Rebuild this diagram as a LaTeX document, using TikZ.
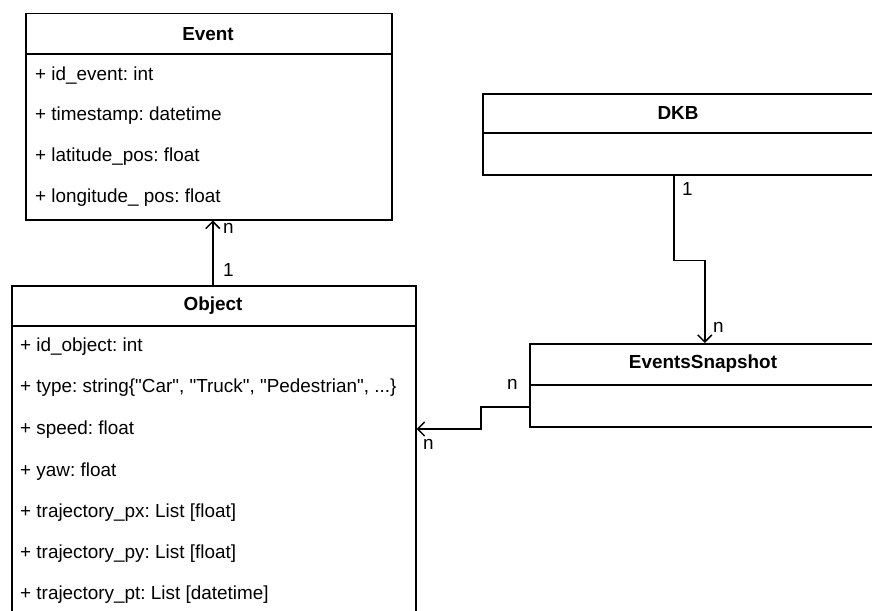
\documentclass[tikz,border=0pt]{standalone}
\usepackage{fontspec}
\setmainfont{Liberation Sans}[Ligatures=TeXOff]
\usetikzlibrary{arrows.meta}
\frenchspacing
\begin{document}
\begin{tikzpicture}[x=1pt,y=-1pt,
  every node/.style={font=\fontsize{18.9}{22}\selectfont, inner sep=0pt},
  umlbox/.style={draw, line width=1.5pt, rectangle, anchor=north west, inner sep=0pt},
  title/.style={font=\fontsize{18.9}{22}\selectfont\bfseries},
  attr/.style={anchor=west},
  mult/.style={anchor=west},
  rule/.style={line width=1.5pt},
  conn/.style={line width=1.5pt, -{Straight Barb[length=7pt,width=14pt,line width=1.5pt]}}]
\clip (0,0) rectangle (872,610);
\fill[white] (0,0) rectangle (872,610);

% Event class
\node[umlbox, minimum width=366pt, minimum height=206pt] (event) at (25,13) {};
\node[title] (eventT) at (208,34) {Event};
\draw[rule] (25,54) -- (391,54);
\node[attr] (e1) at (35,76) {+ id\_event: int};
\node[attr] (e2) at (35,116) {+ timestamp: datetime};
\node[attr] (e3) at (35,157) {+ latitude\_pos: float};
\node[attr] (e4) at (35,198) {+ longitude\_ pos: float};

% DKB class
\node[umlbox, minimum width=392pt, minimum height=81pt] (dkb) at (482,93) {};
\node[title] (dkbT) at (678,113) {DKB};
\draw[rule] (482,133) -- (874,133);

% Object class
\node[umlbox, minimum width=404pt, minimum height=345pt] (object) at (11,285) {};
\node[title] (objectT) at (213,306) {Object};
\draw[rule] (11,326) -- (415,326);
\node[attr] (o1) at (20,347) {+ id\_object: int};
\node[attr] (o2) at (20,388) {+ type: string\{"Car", "Truck", "Pedestrian", ...\}};
\node[attr] (o3) at (20,430) {+ speed: float};
\node[attr] (o4) at (20,472) {+ yaw: float};
\node[attr] (o5) at (20,513) {+ trajectory\_px: List [float]};
\node[attr] (o6) at (20,554) {+ trajectory\_py: List [float]};
\node[attr] (o7) at (20,595) {+ trajectory\_pt: List [datetime]};

% EventsSnapshot class
\node[umlbox, minimum width=348pt, minimum height=83pt] (es) at (529,343) {};
\node[title] (esT) at (703,364) {EventsSnapshot};
\draw[rule] (529,385) -- (877,385);

% Object -> Event
\draw[conn] ([xshift=-1pt]object.north) -- ([xshift=-1pt]object.north |- event.south);
\node[mult] (m1) at (223,228) {n};
\node[mult] (m2) at (223,270) {1};

% DKB -> EventsSnapshot
\draw[conn] ([xshift=-5pt]dkb.south) -- ++(0,85) -| ([xshift=1pt]es.north);
\node[mult] (m3) at (682,189) {1};
\node[mult] (m4) at (713,327) {n};

% EventsSnapshot -> Object
\draw[conn] ([yshift=-21.5pt]es.west) -- ++(-48,0) |- ([yshift=-144pt]object.north east);
\node[mult] (m5) at (507,384) {n};
\node[mult] (m6) at (423,444) {n};
\end{tikzpicture}
\end{document}
